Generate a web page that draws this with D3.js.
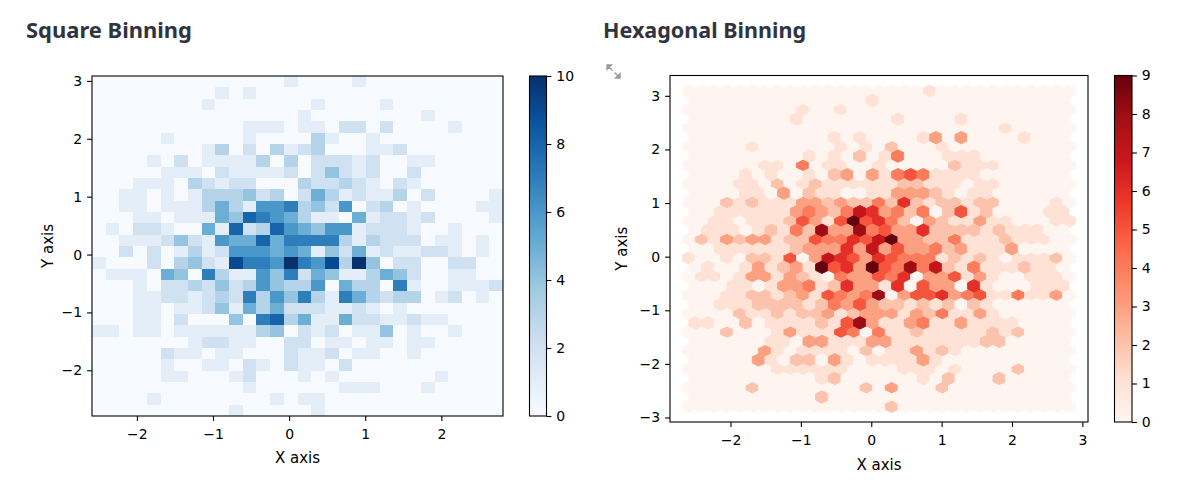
<!DOCTYPE html>
<html>
<head>
<meta charset="utf-8">
<script src="https://cdn.jsdelivr.net/npm/d3@7"></script>
<style>
  html, body { margin: 0; padding: 0; background: #fff; }
  svg { display: block; }
</style>
</head>
<body>
<svg id="chart" width="1200" height="497"></svg>
<script>
const x_extent = [-2.59, 2.81];
const y_extent = [-2.79, 3.085];

const x_ticks_square = [-2, -1, 0, 1, 2];
const y_ticks_square = [-2, -1, 0, 1, 2, 3];
const x_ticks_hex = [-2, -1, 0, 1, 2, 3];
const y_ticks_hex = [-3, -2, -1, 0, 1, 2, 3];
const cbar_ticks_square = [0, 2, 4, 6, 8, 10];
const cbar_ticks_hex = [0, 1, 2, 3, 4, 5, 6, 7, 8, 9];

// 30x30 counts, first row = top of the plot
const square_counts = [
  [0,0,0,0,0,0,0,0,0,0,0,0,0,0,1,0,0,0,0,1,0,0,0,0,0,0,0,0,0,0],
  [0,0,0,0,0,0,0,0,0,1,0,1,0,0,0,0,0,0,0,0,0,0,0,0,0,0,0,0,0,0],
  [0,0,0,0,0,0,0,0,1,0,0,0,0,0,0,0,1,0,0,0,0,1,0,0,0,0,0,0,0,0],
  [0,0,0,0,0,0,0,0,0,0,0,0,0,0,0,1,0,0,0,0,0,0,0,0,1,0,0,0,0,0],
  [0,0,0,0,0,0,0,0,0,0,0,1,1,1,0,1,1,0,2,2,0,2,0,0,0,0,1,0,0,0],
  [0,0,0,0,0,1,0,0,0,0,0,1,0,0,0,0,3,1,0,0,1,0,0,0,0,0,0,0,0,0],
  [0,0,0,0,0,0,0,0,1,3,0,2,0,3,1,2,3,0,0,0,1,1,2,0,0,0,0,0,0,0],
  [0,0,0,0,1,0,2,0,1,1,1,1,3,0,3,0,2,2,2,1,2,0,0,1,1,0,0,0,0,0],
  [0,0,0,0,0,1,1,1,0,2,1,1,1,1,2,0,2,4,2,1,2,0,0,2,0,0,0,0,0,0],
  [0,0,0,1,1,1,0,3,2,1,2,2,0,0,0,3,2,2,3,2,1,0,2,1,0,0,0,0,0,0],
  [0,0,1,1,0,1,0,1,3,3,3,4,2,3,0,2,5,3,1,2,1,1,3,0,2,0,0,0,0,1],
  [0,0,1,1,0,1,1,1,3,5,3,1,6,6,7,3,4,2,6,0,2,3,0,1,0,0,0,0,1,1],
  [0,0,0,1,1,0,1,1,1,5,4,8,7,6,5,3,1,1,0,5,1,2,2,1,2,0,0,0,0,1],
  [0,1,0,2,2,1,0,0,5,1,8,2,3,8,6,5,4,6,6,1,2,2,2,1,0,0,1,0,0,0],
  [0,0,1,1,1,2,4,2,1,6,5,5,8,5,7,7,7,7,3,1,3,2,2,2,0,1,1,0,1,0],
  [0,0,2,0,2,0,1,3,1,2,6,6,6,5,6,5,1,4,2,5,1,2,1,1,2,2,1,0,1,0],
  [1,0,0,0,2,0,3,4,2,1,9,7,7,6,10,7,6,9,3,10,4,0,2,2,0,0,2,2,0,0],
  [0,1,1,1,0,5,4,0,7,3,1,1,6,4,7,2,5,4,1,1,3,5,4,2,0,0,1,1,0,0],
  [0,0,0,1,0,2,2,3,2,4,2,3,6,4,3,3,6,0,5,3,3,0,7,1,0,0,1,1,1,2],
  [0,0,0,1,1,2,2,1,2,3,2,7,3,6,4,7,3,1,7,5,3,2,3,3,0,1,2,0,1,0],
  [0,0,0,1,1,0,1,1,2,4,1,5,3,5,2,2,2,1,1,2,1,0,1,0,0,0,0,0,0,0],
  [0,0,0,1,1,0,2,0,0,0,4,0,7,8,3,5,1,1,5,2,2,1,1,2,1,1,0,0,0,0],
  [1,1,0,1,1,0,1,1,1,1,1,1,3,4,0,2,1,2,0,1,1,4,0,1,0,0,1,0,0,0],
  [0,0,0,0,0,0,0,1,2,2,1,1,0,0,2,2,0,1,1,0,1,1,0,1,1,0,0,0,0,0],
  [0,0,0,0,0,2,1,1,0,1,1,0,0,0,2,1,1,2,0,1,1,0,0,1,0,0,0,0,0,0],
  [0,0,0,0,0,1,0,0,1,1,0,2,1,0,2,1,1,0,2,0,0,0,0,0,0,0,0,0,0,0],
  [0,0,0,0,0,1,1,0,0,0,1,2,0,0,0,1,0,1,0,0,0,0,0,0,0,1,0,0,0,0],
  [0,0,0,0,0,0,0,0,0,0,0,1,0,0,0,0,0,0,1,1,1,0,0,0,1,0,0,0,0,0],
  [0,0,0,0,1,0,0,0,0,0,0,0,0,1,0,1,1,0,0,0,0,0,0,0,0,0,0,0,0,0],
  [0,0,0,0,0,0,0,0,0,0,1,0,0,0,0,0,1,0,0,0,0,0,0,0,0,0,0,0,0,0]
];

// hexbin counts (gridsize 30), one digit per hexagon, first row = bottom
// lattice on the grid points: 18 rows x 31
const hex_counts_grid = [
  "0000000000000000200000000000000",
  "0000020000000020300020000000000",
  "0000000111111000011101000020000",
  "0000003101111020113121000000000",
  "0002000131115404112111112120000",
  "0000211212231233313241131000000",
  "0001122123154348035563451141130",
  "0110133132104335460335131001110",
  "1001022150376536544412121011120",
  "0213233122544657933224111211100",
  "0011011125315956420321131100011",
  "0002121113323224262122122000010",
  "0000110201211111122111011000000",
  "0000001104011001000002111000000",
  "0000010000001010200010000000000",
  "0000000000000000000000000100000",
  "0000000001001000000000000000000",
  "0000000000000000000100000000000"
];
// lattice shifted by half a cell: 17 rows x 30
const hex_counts_offset = [
  "000000000020000000000000000000",
  "000000000012000000102000200000",
  "000003102203101111310000000000",
  "000000110331113311111112200000",
  "110020111121583113411311110000",
  "001112222124353221212021000000",
  "000110133412633160533061000111",
  "010013123195639548472141112110",
  "001111112333637353342311130000",
  "011101214283384533622221211100",
  "001111113432476342402512000011",
  "000011030211001133321011000000",
  "000010100102303145411110000000",
  "000000000101020140001110000000",
  "000000000001010000130300001000",
  "000000001000000010000100000000",
  "000000000000001000000000000000"
];

const blues = ['#f7fbff','#deebf7','#c6dbef','#9ecae1','#6baed6','#4292c6','#2171b5','#08519c','#08306b'];
const reds = ['#fff5f0','#fee0d2','#fcbba1','#fc9272','#fb6a4a','#ef3b2c','#cb181d','#a50f15','#67000d'];

const sq_box = {left: 92, top: 76, width: 411, height: 340};
const sq_cbar = {left: 529.5, top: 76, width: 17, height: 340};
const hex_box = {left: 670, top: 75.5, width: 418, height: 346.5};
const hex_cbar = {left: 1114.5, top: 75.5, width: 17.5, height: 346.5};

const tick_font = '"DejaVu Sans", sans-serif';
const svg = d3.select('#chart');
const defs = svg.append('defs');

function cmap (colors, vmax) {
    return d3.scaleLinear()
        .domain(colors.map((c, i) => i / (colors.length - 1) * vmax))
        .range(colors)
        .interpolate(d3.interpolateRgb)
        .clamp(true);
}

function style_axis (axis_g) {
    axis_g.select('.domain').remove();
    axis_g.selectAll('.tick line').attr('stroke', '#000').attr('stroke-width', 1.1);
    axis_g.selectAll('.tick text')
        .attr('fill', '#000')
        .style('font-family', tick_font)
        .style('font-size', '14px');
}

function draw_frame (box, x, y, x_ticks, y_ticks) {
    let bottom = svg.append('g')
        .attr('transform', 'translate(0,' + (box.top + box.height) + ')')
        .call(d3.axisBottom(x).tickValues(x_ticks).tickSize(4.9).tickFormat(d3.format('d')));
    style_axis(bottom);
    bottom.selectAll('.tick text').attr('y', 23.4).attr('dy', null);

    let left = svg.append('g')
        .attr('transform', 'translate(' + box.left + ',0)')
        .call(d3.axisLeft(y).tickValues(y_ticks).tickSize(4.9).tickPadding(4.9).tickFormat(d3.format('d')));
    style_axis(left);

    svg.append('rect')
        .attr('x', box.left).attr('y', box.top)
        .attr('width', box.width).attr('height', box.height)
        .attr('fill', 'none').attr('stroke', '#000').attr('stroke-width', 1.1);
}

function draw_labels (box, xlabel_y, ylabel_x) {
    svg.append('text')
        .attr('x', box.left + box.width / 2).attr('y', xlabel_y)
        .attr('text-anchor', 'middle')
        .style('font-family', tick_font).style('font-size', '15px').attr('fill', '#000')
        .text('X axis');
    svg.append('text')
        .attr('transform', 'translate(' + ylabel_x + ',' + (box.top + box.height / 2) + ') rotate(-90)')
        .attr('text-anchor', 'middle')
        .style('font-family', tick_font).style('font-size', '15px').attr('fill', '#000')
        .text('Y axis');
}

function draw_colorbar (id, box, colors, vmax, ticks) {
    let grad = defs.append('linearGradient').attr('id', id)
        .attr('x1', 0).attr('y1', 1).attr('x2', 0).attr('y2', 0);
    colors.forEach(function (c, i) {
        grad.append('stop').attr('offset', i / (colors.length - 1)).attr('stop-color', c);
    });
    svg.append('rect')
        .attr('x', box.left).attr('y', box.top)
        .attr('width', box.width).attr('height', box.height)
        .attr('fill', 'url(#' + id + ')');
    let cy = d3.scaleLinear([0, vmax], [box.top + box.height, box.top]);
    let ax = svg.append('g')
        .attr('transform', 'translate(' + (box.left + box.width) + ',0)')
        .call(d3.axisRight(cy).tickValues(ticks).tickSize(4.9).tickPadding(4.9).tickFormat(d3.format('d')));
    style_axis(ax);
    svg.append('rect')
        .attr('x', box.left).attr('y', box.top)
        .attr('width', box.width).attr('height', box.height)
        .attr('fill', 'none').attr('stroke', '#000').attr('stroke-width', 1.1);
}

// ---------- titles ----------
function draw_title (x, label, width) {
    svg.append('text').attr('x', x).attr('y', 37.5)
        .style('font-family', '"Noto Sans", sans-serif').style('font-weight', 700).style('font-size', '22px')
        .attr('textLength', width).attr('lengthAdjust', 'spacingAndGlyphs')
        .attr('fill', '#31333f').text(label);
}
draw_title(26, 'Square Binning', 166);
draw_title(603, 'Hexagonal Binning', 203);

// fullscreen icon
svg.append('path')
    .attr('d', 'M607,65 L611.5,65 L607,69.5 Z M608,66 L612.5,70.5 M620,78 L615.5,78 L620,73.5 Z M619,77 L614.5,72.5')
    .attr('fill', '#9a9a9a').attr('stroke', '#9a9a9a').attr('stroke-width', 1.3);

// ---------- square binning ----------
const sx = d3.scaleLinear(x_extent, [sq_box.left, sq_box.left + sq_box.width]);
const sy = d3.scaleLinear(y_extent, [sq_box.top + sq_box.height, sq_box.top]);
const sq_nx = square_counts[0].length, sq_ny = square_counts.length;
const x_edges = d3.range(sq_nx + 1).map(i => x_extent[0] + i * (x_extent[1] - x_extent[0]) / sq_nx);
const y_edges = d3.range(sq_ny + 1).map(j => y_extent[1] - j * (y_extent[1] - y_extent[0]) / sq_ny);
const sq_max = d3.max(square_counts.flat());
const sq_color = cmap(blues, sq_max);

let sq_cells = square_counts.flatMap((row, r) => row.map((v, c) => ({r: r, c: c, v: v})));
svg.append('g').attr('shape-rendering', 'crispEdges')
    .selectAll('rect').data(sq_cells).join('rect')
    .attr('x', d => sx(x_edges[d.c]))
    .attr('y', d => sy(y_edges[d.r]))
    .attr('width', d => sx(x_edges[d.c + 1]) - sx(x_edges[d.c]))
    .attr('height', d => sy(y_edges[d.r + 1]) - sy(y_edges[d.r]))
    .attr('fill', d => sq_color(d.v));

draw_frame(sq_box, sx, sy, x_ticks_square, y_ticks_square);
draw_labels(sq_box, 463, 53);
draw_colorbar('blues_grad', sq_cbar, blues, sq_max, cbar_ticks_square);

// ---------- hexagonal binning ----------
const x_span = x_extent[1] - x_extent[0], y_span = y_extent[1] - y_extent[0];
const hx = d3.scaleLinear([x_extent[0] - 0.05 * x_span, x_extent[1] + 0.05 * x_span],
    [hex_box.left, hex_box.left + hex_box.width]);
const hy = d3.scaleLinear([y_extent[0] - 0.05 * y_span, y_extent[1] + 0.05 * y_span],
    [hex_box.top + hex_box.height, hex_box.top]);
const hex_nx = hex_counts_offset[0].length;
const hex_ny = hex_counts_offset.length;
const hsx = x_span / hex_nx, hsy = y_span / hex_ny;
const hex_shape = [[0.5, -0.5], [0.5, 0.5], [0, 1], [-0.5, 0.5], [-0.5, -0.5], [0, -1]];

let hexes = [];
hex_counts_grid.forEach(function (row, j) {
    row.split('').forEach(function (ch, i) {
        hexes.push({cx: x_extent[0] + i * hsx, cy: y_extent[0] + j * hsy, v: +ch});
    });
});
hex_counts_offset.forEach(function (row, j) {
    row.split('').forEach(function (ch, i) {
        hexes.push({cx: x_extent[0] + (i + 0.5) * hsx, cy: y_extent[0] + (j + 0.5) * hsy, v: +ch});
    });
});
const hex_max = d3.max(hexes, d => d.v);
const hex_color = cmap(reds, hex_max);

svg.append('g').selectAll('path').data(hexes).join('path')
    .attr('d', d => 'M' + hex_shape.map(p => hx(d.cx + p[0] * hsx) + ',' + hy(d.cy + p[1] * hsy / 3)).join('L') + 'Z')
    .attr('fill', d => hex_color(d.v))
    .attr('stroke', d => hex_color(d.v))
    .attr('stroke-width', 1);

draw_frame(hex_box, hx, hy, x_ticks_hex, y_ticks_hex);
draw_labels(hex_box, 469.5, 627);
draw_colorbar('reds_grad', hex_cbar, reds, hex_max, cbar_ticks_hex);
</script>
</body>
</html>
